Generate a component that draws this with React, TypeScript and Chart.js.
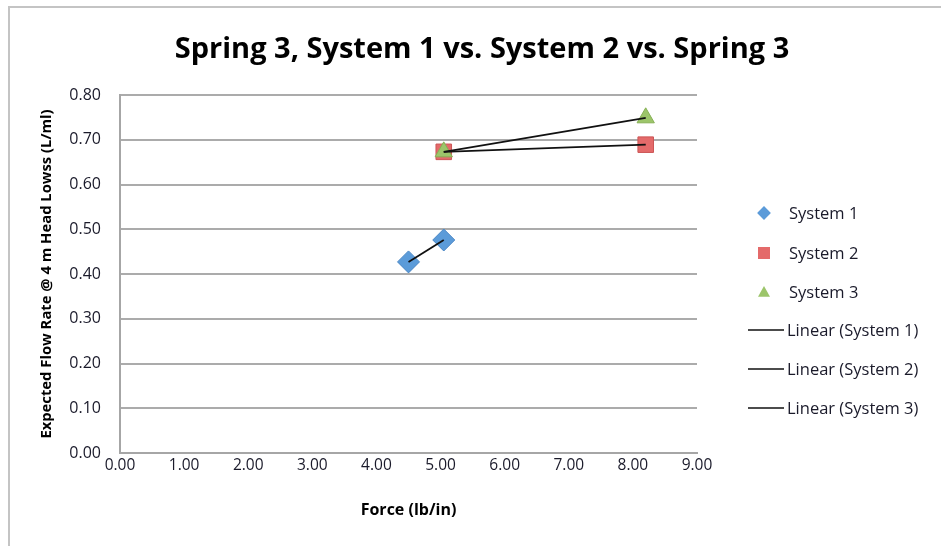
import React, { useEffect, useRef } from "react";
import { Chart, registerables } from "chart.js";

Chart.register(...registerables);

const chartTitle = "Spring 3, System 1 vs. System 2 vs. Spring 3";
const xAxisTitle = "Force (lb/in)";
const yAxisTitle = "Expected Flow Rate @ 4 m Head Lowss (L/ml)";

const system1X = [4.5, 5.05];
const system1Y = [0.427, 0.476];
const system2X = [5.05, 8.2];
const system2Y = [0.673, 0.689];
const system3X = [5.05, 8.2];
const system3Y = [0.673, 0.749];

const seriesNames = ["System 1", "System 2", "System 3"];
const trendNames = ["Linear (System 1)", "Linear (System 2)", "Linear (System 3)"];
const seriesColors = ["#5b9bd9", "#e46a6a", "#9cc56a"];
const seriesBorders = ["#4a86c4", "#cc5555", "#86b055"];
const seriesStyles = ["rectRot", "rect", "triangle"];

const FONT = "'Open Sans', 'DejaVu Sans', sans-serif";

function pts(xs: number[], ys: number[]) {
  return xs.map((x, i) => ({ x, y: ys[i] }));
}

function drawMarker(ctx: CanvasRenderingContext2D, style: string, x: number, y: number, r: number) {
  ctx.beginPath();
  if (style === "rectRot") {
    ctx.moveTo(x, y - r * 1.15);
    ctx.lineTo(x + r * 1.15, y);
    ctx.lineTo(x, y + r * 1.15);
    ctx.lineTo(x - r * 1.15, y);
  } else if (style === "rect") {
    ctx.rect(x - r, y - r, r * 2, r * 2);
  } else {
    ctx.moveTo(x, y - r);
    ctx.lineTo(x + r, y + r * 0.8);
    ctx.lineTo(x - r, y + r * 0.8);
  }
  ctx.closePath();
  ctx.fill();
}

const titleLegendPlugin = {
  id: "titleLegend",
  afterDraw(chart: any) {
    const ctx = chart.ctx;
    ctx.save();
    ctx.fillStyle = "#000";
    ctx.font = `bold 29px ${FONT}`;
    ctx.textAlign = "center";
    ctx.textBaseline = "middle";
    ctx.fillText(chartTitle, 482, 50);

    ctx.font = `16.5px ${FONT}`;
    ctx.textAlign = "left";
    const markerYs = [213, 253, 292];
    seriesNames.forEach((name, i) => {
      const y = markerYs[i];
      ctx.fillStyle = seriesColors[i];
      drawMarker(ctx, seriesStyles[i], 764, y, 6);
      ctx.fillStyle = "#1a1a2a";
      ctx.fillText(name, 789, y + 1);
    });
    const lineYs = [330, 369, 408];
    trendNames.forEach((name, i) => {
      const y = lineYs[i];
      ctx.strokeStyle = "#111";
      ctx.lineWidth = 1.5;
      ctx.beginPath();
      ctx.moveTo(748, y);
      ctx.lineTo(784, y);
      ctx.stroke();
      ctx.fillStyle = "#1a1a2a";
      ctx.fillText(name, 787, y + 1);
    });
    ctx.restore();
  },
};

export default function App() {
  const ref = useRef<HTMLCanvasElement>(null);

  useEffect(() => {
    if (!ref.current) return;
    const trend = (xs: number[], ys: number[], label: string) => ({
      label,
      data: pts(xs, ys),
      showLine: true,
      borderColor: "#111",
      borderWidth: 1.8,
      pointRadius: 0,
      pointHoverRadius: 0,
      fill: false,
      order: 0,
    });
    const scatter = (xs: number[], ys: number[], i: number) => ({
      label: seriesNames[i],
      data: pts(xs, ys),
      showLine: false,
      pointStyle: seriesStyles[i],
      pointRadius: i === 2 ? 10 : 11,
      backgroundColor: seriesColors[i],
      borderColor: seriesBorders[i],
      borderWidth: 1,
      order: 3 - i,
    });
    const chart = new Chart(ref.current, {
      type: "scatter",
      data: {
        datasets: [
          trend(system1X, system1Y, trendNames[0]),
          trend(system2X, system2Y, trendNames[1]),
          trend(system3X, system3Y, trendNames[2]),
          scatter(system1X, system1Y, 0),
          scatter(system2X, system2Y, 1),
          scatter(system3X, system3Y, 2),
        ] as any,
      },
      options: {
        animation: false,
        responsive: false,
        maintainAspectRatio: false,
        layout: { padding: { top: 95, bottom: 24, left: 36, right: 244 } },
        plugins: {
          legend: { display: false },
          title: { display: false },
          tooltip: { enabled: false },
        },
        scales: {
          x: {
            type: "linear",
            min: 0,
            max: 9,
            afterFit: (s: any) => {
              s.height = 69;
            },
            ticks: {
              stepSize: 1,
              padding: 3,
              color: "#1a1a2a",
              font: { family: FONT, size: 15.5 },
              callback: (v: any) => Number(v).toFixed(2),
            },
            grid: { display: false, drawTicks: false },
            border: { display: true, color: "#a6a6a6", width: 2 },
            title: {
              display: true,
              text: xAxisTitle,
              color: "#000",
              font: { family: FONT, size: 16, weight: "bold" },
              padding: { top: 4, bottom: 2 },
            },
          },
          y: {
            type: "linear",
            min: 0,
            max: 0.8,
            afterFit: (s: any) => {
              s.width = 84;
            },
            ticks: {
              stepSize: 0.1,
              padding: 19,
              color: "#1a1a2a",
              font: { family: FONT, size: 16 },
              callback: (v: any) => Number(v).toFixed(2),
            },
            grid: { display: true, color: "#ababab", lineWidth: 2, drawTicks: false },
            border: { display: true, color: "#a6a6a6", width: 2 },
            title: {
              display: true,
              text: yAxisTitle,
              color: "#000",
              font: { family: FONT, size: 14.8, weight: "bold" },
              padding: { top: 2, bottom: 0 },
            },
          },
        },
      } as any,
      plugins: [titleLegendPlugin],
    });
    return () => chart.destroy();
  }, []);

  return (
    <div style={{ position: "fixed", left: 0, top: 0, width: 941, height: 546, background: "#fff" }}>
      <div
        style={{
          position: "absolute",
          left: 8,
          top: 6,
          width: 960,
          height: 560,
          borderLeft: "2px solid #c4c4c4",
          borderTop: "2px solid #c4c4c4",
        }}
      />
      <canvas ref={ref} width={941} height={546} style={{ position: "absolute", left: 0, top: 0 }} />
    </div>
  );
}
